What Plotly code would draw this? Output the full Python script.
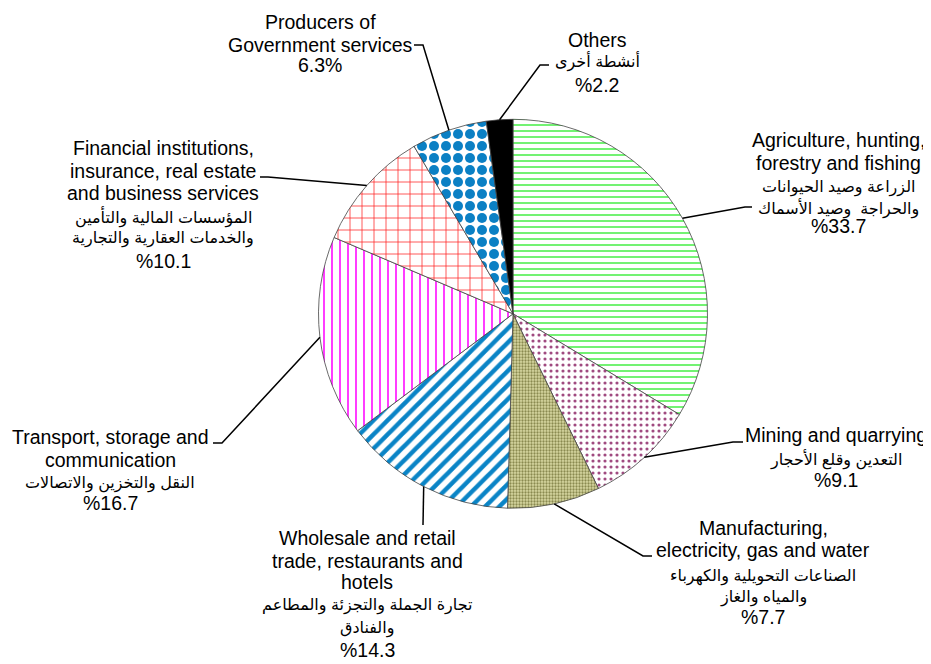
import math
import plotly.graph_objects as go

# sector shares of GDP, clockwise from 12 o'clock
sectors = ["Agriculture", "Mining", "Manufacturing", "Wholesale",
           "Transport", "Financial", "Producers", "Others"]
shares = [33.7, 9.1, 7.7, 14.3, 16.7, 10.1, 6.3, 2.2]

english_lines = [
    ["Agriculture, hunting,", "forestry and fishing"],
    ["Mining and quarrying"],
    ["Manufacturing,", "electricity, gas and water"],
    ["Wholesale and retail", "trade, restaurants and", "hotels"],
    ["Transport, storage and", "communication"],
    ["Financial institutions,", "insurance, real estate", "and business services"],
    ["Producers of", "Government services"],
    ["Others"],
]
arabic_lines = [
    ["الزراعة وصيد الحيوانات", "والحراجة  وصيد الأسماك"],
    ["التعدين وقلع الأحجار"],
    ["الصناعات التحويلية والكهرباء", "والمياه والغاز"],
    ["تجارة الجملة والتجزئة والمطاعم", "والفنادق"],
    ["النقل والتخزين والاتصالات"],
    ["المؤسسات المالية والتأمين", "والخدمات العقارية والتجارية"],
    [],
    ["أنشطة أخرى"],
]
pct_labels = ["%33.7", "%9.1", "%7.7", "%14.3", "%16.7", "%10.1", "6.3%", "%2.2"]

# the page body has an 8px margin, so the figure is drawn 8px in
OFF = 8
W, H = 931 - OFF, 664 - OFF
CX, CY, R = 513, 313.8, 194.5

# label block placement (window pixels): centre x and the y of each line
label_x = [838, 836, 763, 367, 110, 163, 320, 597]
label_y = [
    [140, 163, 187, 208, 226],
    [435, 460, 480],
    [528, 550, 576, 597, 617],
    [538, 561, 582, 605, 628, 650],
    [437, 460, 483, 503],
    [148, 171, 193, 217, 239, 261],
    [22, 45, 65],
    [40, 62, 85],
]
# leader-line bends (window pixels), from the slice edge outwards
leader_bends = [
    [(745, 207), (752, 207)],
    [(733, 442), (743, 442)],
    [(643, 556), (652, 556)],
    [(423, 525)],
    [(222, 443), (213, 443)],
    [(268, 177), (260, 177)],
    [(423, 45), (414, 45)],
    [(540, 65), (549, 65)],
]

bg = ["white", "white", "#d8d8a2", "white", "white", "white", "white", "black"]
shape = ["-", ".", ".", "/", "|", "+", ".", ""]
fg = ["#44ee44", "#a04a80", "#8a8a50", "#0a84c6", "#ff22ff", "#ff2020", "#0b80c4", "black"]
psize = [6, 6, 3, 10, 8, 12, 12, 8]
solid = [0.25, 0.22, 0.45, 0.45, 0.22, 0.12, 0.55, 0.3]


def px(x):
    return (x - OFF) / W


def py(y):
    return 1 - (y - OFF) / H


fig = go.Figure(go.Pie(
    labels=sectors,
    values=shares,
    sort=False,
    direction="clockwise",
    rotation=0,
    textinfo="none",
    hoverinfo="label+value",
    domain=dict(x=[px(CX - R), px(CX + R)], y=[py(CY + R), py(CY - R)]),
    marker=dict(
        colors=bg,
        line=dict(color="#444444", width=0.8),
        pattern=dict(shape=shape, fgcolor=fg, bgcolor=bg, size=psize,
                     solidity=solid, fillmode="replace"),
    ),
))

font_en = "Liberation Sans, Arial, DejaVu Sans, sans-serif"
annotations = []
shapes = []
total = sum(shares)
cum = 0
for i, v in enumerate(shares):
    mid = (cum + v / 2) / total * 2 * math.pi
    cum += v
    sx = CX + R * math.sin(mid)
    sy = CY - R * math.cos(mid)
    pts = [(sx, sy)] + leader_bends[i]
    path = "M " + " L ".join(f"{px(x):.5f},{py(y):.5f}" for x, y in pts)
    shapes.append(dict(type="path", path=path, xref="paper", yref="paper",
                       line=dict(color="black", width=1.5)))

    lines = [(t, 19.5) for t in english_lines[i]] + \
            [(t, 16) for t in arabic_lines[i]] + [(pct_labels[i], 19.5)]
    for (t, s), yy in zip(lines, label_y[i]):
        annotations.append(dict(
            text=t, x=px(label_x[i]), y=py(yy), xref="paper", yref="paper",
            xanchor="center", yanchor="middle", showarrow=False,
            font=dict(family=font_en, size=s, color="black"),
        ))

fig.update_layout(
    width=W, height=H,
    margin=dict(l=0, r=0, t=0, b=0),
    paper_bgcolor="white",
    showlegend=False,
    annotations=annotations,
    shapes=shapes,
)

fig.write_html("out.html")
